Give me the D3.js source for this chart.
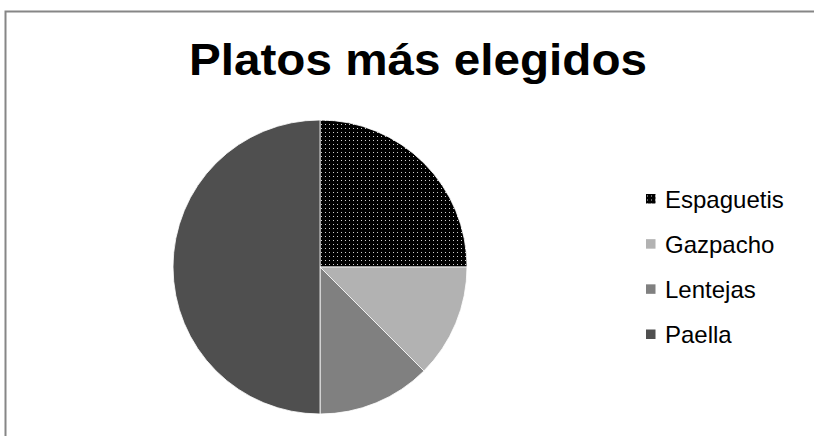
<!DOCTYPE html>
<html>
<head>
<meta charset="utf-8">
<script src="https://cdn.jsdelivr.net/npm/d3@7"></script>
<style>
  html, body { margin: 0; padding: 0; background: #fff; }
  svg { display: block; }
</style>
</head>
<body>
<svg id="chart" width="814" height="436"></svg>
<script>
const categories = ["Espaguetis", "Gazpacho", "Lentejas", "Paella"];
const values = [2, 1, 1, 4];
const fills = ["url(#dots)", "#b2b2b2", "#808080", "#4f4f4f"];
const title = "Platos más elegidos";

const svg = d3.select("#chart");
const W = 814, H = 436;

// dotted fill for the first slice
const defs = svg.append("defs");
const pat = defs.append("pattern")
  .attr("id", "dots")
  .attr("patternUnits", "userSpaceOnUse")
  .attr("width", 4).attr("height", 4);
pat.append("rect").attr("width", 4).attr("height", 4).attr("fill", "#000");
pat.append("rect").attr("x", 1).attr("y", 1).attr("width", 1).attr("height", 1).attr("fill", "#d0d0d0");

svg.append("rect").attr("width", W).attr("height", H).attr("fill", "#fff");

// chart frame (runs past the right and bottom edges)
svg.append("rect")
  .attr("x", 5.5).attr("y", 11.5)
  .attr("width", W + 20).attr("height", H + 20)
  .attr("fill", "none")
  .attr("stroke", "#868686")
  .attr("stroke-width", 2);

svg.append("text")
  .attr("x", 189).attr("y", 75)
  .attr("font-family", "Liberation Sans, Arial, sans-serif")
  .attr("font-weight", "bold")
  .attr("font-size", 45)
  .attr("textLength", 458)
  .attr("lengthAdjust", "spacingAndGlyphs")
  .attr("fill", "#000")
  .text(title);

const cx = 320, cy = 267, r = 147;
const pie = d3.pie().sort(null).value(d => d)(values);
const arc = d3.arc().innerRadius(0).outerRadius(r);

svg.append("g")
  .attr("transform", `translate(${cx},${cy})`)
  .selectAll("path")
  .data(pie)
  .join("path")
  .attr("d", arc)
  .attr("fill", (d, i) => fills[i])
  .attr("stroke", "#fff")
  .attr("stroke-width", 0.8);

// legend
const legendY = d3.scalePoint().domain(categories).range([198.5, 334]);
const lg = svg.append("g");
const item = lg.selectAll("g").data(categories).join("g")
  .attr("transform", d => `translate(646,${legendY(d)})`);
item.append("rect")
  .attr("x", 0).attr("y", -4.5)
  .attr("width", 9.5).attr("height", 9.5)
  .attr("fill", (d, i) => fills[i]);
item.append("text")
  .attr("x", 19).attr("y", 9)
  .attr("font-family", "Liberation Sans, Arial, sans-serif")
  .attr("font-size", 24)
  .attr("fill", "#000")
  .text(d => d);
</script>
</body>
</html>
